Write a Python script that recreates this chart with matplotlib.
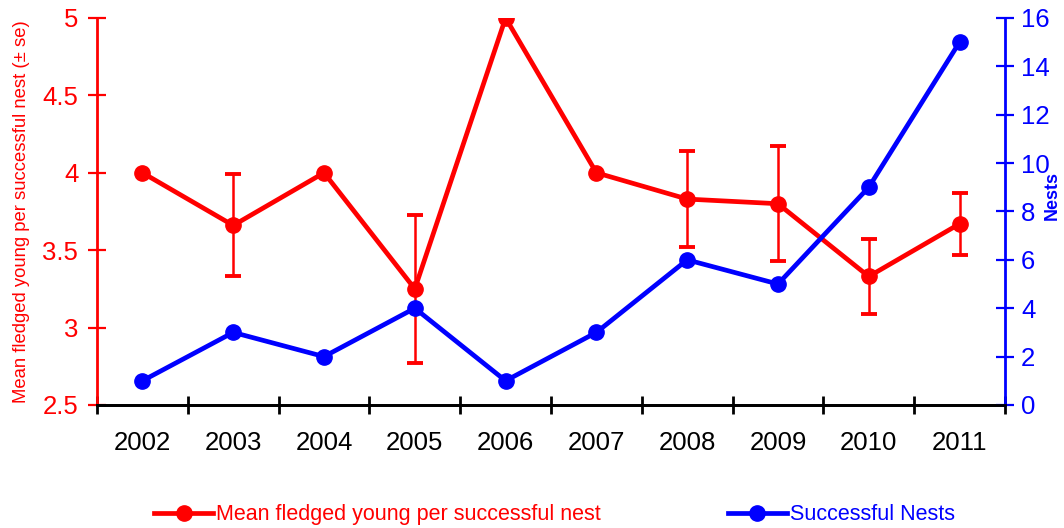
import matplotlib.pyplot as plt
import numpy as np

plt.rcParams['font.family'] = ['Liberation Sans', 'DejaVu Sans']

years = ['2002', '2003', '2004', '2005', '2006', '2007', '2008', '2009', '2010', '2011']
mean_fledged = [4.0, 3.66, 4.0, 3.25, 5.0, 4.0, 3.83, 3.80, 3.33, 3.67]
err_low = [0, 0.33, 0, 0.48, 0, 0, 0.31, 0.37, 0.24, 0.20]
err_high = [0, 0.33, 0, 0.48, 0, 0, 0.31, 0.37, 0.24, 0.20]
has_err = [False, True, False, True, False, False, True, True, True, True]
successful_nests = [1, 3, 2, 4, 1, 3, 6, 5, 9, 15]

red = '#ff0000'
blue = '#0000ff'

x = np.arange(len(years))

fig = plt.figure(figsize=(10.64, 5.28), dpi=100)
ax = fig.add_axes([0.0912, 0.233, 0.8533, 0.733])
ax2 = ax.twinx()

# error bars only where a se was given
xe = x[has_err]
lo = np.array(err_low)[has_err]
hi = np.array(err_high)[has_err]
ye = np.array(mean_fledged)[has_err]
ax.errorbar(xe, ye, yerr=[lo, hi], fmt='none', ecolor=red, elinewidth=1.8,
            capsize=5.5, capthick=2.8)
l1, = ax.plot(x, mean_fledged, color=red, lw=3.4, marker='o', ms=11,
              label='Mean fledged young per successful nest')
l2, = ax2.plot(x, successful_nests, color=blue, lw=3.4, marker='o', ms=11,
               label='Successful Nests')

ax.set_xlim(-0.5, 9.5)
ax.set_ylim(2.5, 5)
ax2.set_ylim(0, 16)
ax.set_yticks([2.5, 3, 3.5, 4, 4.5, 5])
ax.set_yticklabels(['2.5', '3', '3.5', '4', '4.5', '5'])
ax2.set_yticks(range(0, 17, 2))

ax.set_xticks(np.arange(-0.5, 10, 1))
ax.set_xticklabels([])
ax.set_xticks(x, minor=True)
ax.set_xticklabels(years, minor=True)

for a in (ax, ax2):
    a.spines['top'].set_visible(False)
    a.spines['bottom'].set_linewidth(2)
    a.spines['bottom'].set_color('black')
ax.spines['right'].set_visible(False)
ax.spines['left'].set_color(red)
ax.spines['left'].set_linewidth(2)
ax2.spines['left'].set_visible(False)
ax2.spines['right'].set_color(blue)
ax2.spines['right'].set_linewidth(2)

ax.tick_params(axis='x', which='major', direction='inout', length=13, width=2, color='black')
ax.tick_params(axis='x', which='minor', length=0, pad=19, labelsize=18.5, labelcolor='black')
ax.tick_params(axis='y', direction='inout', length=13, width=1.6, color=red,
               labelcolor=red, labelsize=18.5, pad=7)
ax2.tick_params(axis='y', direction='inout', length=13, width=1.6, color=blue,
                labelcolor=blue, labelsize=18.5, pad=5)

ax.set_ylabel('Mean fledged young per successful nest (± se)', color=red, fontsize=13.3)
ax.yaxis.set_label_coords(-0.074, 0.5)
ax2.set_ylabel('Nests', color=blue, fontsize=13, fontweight='bold')
ax2.yaxis.set_label_coords(1.043, 0.54)

fig.legend(handles=[l1, l2], loc='center left', bbox_to_anchor=(0.145, 0.025),
           ncol=2, frameon=False, handlelength=2.75, handletextpad=0.12,
           columnspacing=5.9, labelcolor='linecolor', fontsize=15.5,
           borderpad=0, borderaxespad=0)

fig.savefig('out.png', dpi=100)
